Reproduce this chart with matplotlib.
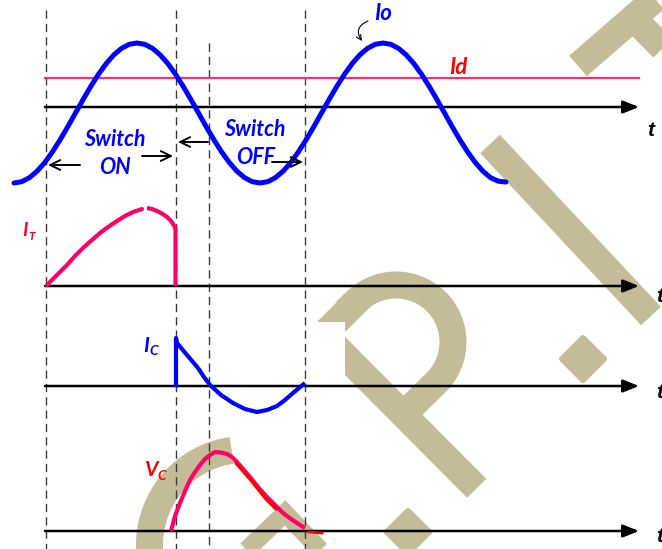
import numpy as np
import matplotlib
matplotlib.use('Agg')
import matplotlib.pyplot as plt
from matplotlib.patches import Rectangle
from matplotlib.markers import MarkerStyle

# ---------------- data (picture coordinates: x right, y down) ----------------
io_x = [14.0, 21.7, 29.4, 37.1, 44.8, 52.4, 60.1, 67.8, 75.5, 83.2, 90.9, 98.6,
        106.3, 113.9, 121.6, 129.3, 137.0, 144.7, 152.4, 160.1, 167.8, 175.4, 183.1,
        190.8, 198.5, 206.2, 213.9, 221.6, 229.3, 236.9, 244.6, 252.3, 260.0, 267.7,
        275.4, 283.1, 290.8, 298.4, 306.1, 313.8, 321.5, 329.2, 336.9, 344.6, 352.3,
        359.9, 367.6, 375.3, 383.0, 390.7, 398.4, 406.1, 413.8, 421.4, 429.1, 436.8,
        444.5, 452.2, 459.9, 467.6, 475.3, 482.9, 490.6, 498.3, 506.0]
io_y = [183, 181.7, 177.7, 171.2, 162.5, 151.9, 139.8, 126.7, 113, 99.3, 86.2, 74.1,
        63.5, 54.8, 48.3, 44.3, 43, 44.3, 48.3, 54.8, 63.5, 74.1, 86.2, 99.3,
        113, 126.7, 139.8, 151.9, 162.5, 171.2, 177.7, 181.7, 183, 181.7, 177.7, 171.2,
        162.5, 151.9, 139.8, 126.7, 113, 99.3, 86.2, 74.1, 63.5, 54.8, 48.3, 44.3,
        43, 44.3, 48.3, 54.8, 63.5, 74.1, 86.2, 99.3, 113, 126.7, 139.8, 151.9,
        162.5, 171.2, 177.7, 181.2, 182]
id_level = 78

it_x1 = [47, 57, 67, 75, 83, 92, 100, 108, 117, 125, 133, 142]
it_y1 = [285, 275, 265, 256, 248, 240, 233, 227, 221, 216, 212, 209]
it_x2 = [147, 152, 157, 162, 167, 171, 175, 175.5, 175.5]
it_y2 = [208, 209, 211, 213.5, 217, 221, 227, 227, 286]

ic_x = [176, 176, 177, 187, 198, 204, 210, 221, 233, 245, 257, 267, 277, 285, 293, 299, 305]
ic_y = [387, 338, 343, 355, 368, 377, 385, 395, 403, 409, 412, 410, 406, 400, 393, 388, 383]

vc_x = [171, 175, 180, 185, 190, 195, 200, 205, 210, 215, 221, 227, 232, 237, 243,
        250, 258, 267, 275, 283, 291, 300, 305]
vc_y = [531, 516, 503, 491, 480, 472, 465, 459, 455, 452, 452.5, 454, 457, 462, 469,
        477, 487, 497, 505, 513, 519, 525, 528]
vc2_x = [236, 243, 250, 258, 266, 276]
vc2_y = [463, 471, 479, 489, 499, 509]
vc_tail_x = [309, 322]
vc_tail_y = [532, 533]

axis_rows = [107, 286, 386, 531]
axis_start, axis_end = 45, 639
t_labels = [(651, 130), (660, 296), (660, 392), (660, 537)]

dash_x = [46, 175.5, 209, 305]
dash_top = [10, 10, 43, 10]

# ---------------- figure ----------------
fig = plt.figure(figsize=(6.62, 5.49), dpi=100)
ax = fig.add_axes([0, 0, 1, 1])
ax.set_xlim(0, 662)
ax.set_ylim(549, 0)
ax.axis('off')

PX = 72 / 100.0  # points per pixel
TAN = '#c4bc97'
BLUE = '#0000ff'
PINK = '#ff0066'
RED = '#ff0000'

# ---------------- watermark (decoration) ----------------
wm_kw = dict(color=TAN, lw=27 * PX, solid_capstyle='butt', solid_joinstyle='miter', zorder=1)
ax.plot([490, 651], [144, 316], **wm_kw)                         # I stroke
ax.plot([578, 700], [66, -40], **wm_kw)                          # T bar
ax.plot([640, 700], [25, 85], **wm_kw)                           # T stem
th = np.radians(np.linspace(225, 405, 60))
px = [476.7, 323.6, 356] + list(396 + 57 * np.cos(th)) + [400]
py = [488.3, 334.4, 302] + list(342 + 57 * np.sin(th)) + [418]
ax.plot(px, py, **wm_kw)                                         # P
th2 = np.radians(np.linspace(150, 262, 50))
ax.plot(245 + 95.5 * np.cos(th2), 545 + 95.5 * np.sin(th2), **wm_kw)  # C
ax.plot([234, 285, 332], [562, 513, 562], color=TAN, lw=18 * PX,
        solid_joinstyle='miter', solid_capstyle='butt', zorder=1)
dm = MarkerStyle('D', joinstyle='round')
for cx, cy in [(583, 359), (408, 532)]:
    ax.plot([cx], [cy], marker=dm, ms=29 * PX, mfc=TAN, mec=TAN, mew=6 * PX,
            ls='none', zorder=1)
ax.add_patch(Rectangle((306, 322), 39, 80, facecolor='white', edgecolor='none', zorder=1.5))

# ---------------- dashed guides ----------------
for x, top in zip(dash_x, dash_top):
    ax.plot([x, x], [top, 549], color='#3a3a3a', lw=1.0, dashes=(6, 3.6), zorder=2)

# ---------------- time axes ----------------
for y in axis_rows:
    ax.annotate('', xy=(axis_end, y), xytext=(axis_start, y),
                arrowprops=dict(arrowstyle='-|>,head_length=0.8,head_width=0.32',
                                mutation_scale=12, lw=1.8, color='black',
                                shrinkA=0, shrinkB=0), zorder=3)
for (tx, ty) in t_labels:
    ax.text(tx, ty, 't', fontsize=15, fontweight='bold', fontstyle='italic',
            family='Liberation Sans', ha='center', va='center', color='black', zorder=4)

# ---------------- waveforms ----------------
ax.plot([axis_start, axis_end], [id_level, id_level], color='#ff2d6f', lw=1.6, zorder=3)
ax.plot(io_x, io_y, color=BLUE, lw=3.6, solid_joinstyle='round', solid_capstyle='round', zorder=4)

ax.plot(it_x1, it_y1, color=PINK, lw=3.0, solid_capstyle='round', solid_joinstyle='round', zorder=4)
ax.plot(it_x2, it_y2, color=PINK, lw=3.0, solid_capstyle='butt', solid_joinstyle='round', zorder=4)

ax.plot(ic_x, ic_y, color=BLUE, lw=3.0, solid_capstyle='butt', solid_joinstyle='round', zorder=4)

ax.plot(vc_x, vc_y, color=PINK, lw=3.0, solid_capstyle='butt', solid_joinstyle='round', zorder=4)
ax.plot(vc2_x, vc2_y, color=RED, lw=2.4, solid_capstyle='round', solid_joinstyle='round', zorder=4)
ax.plot(vc_tail_x, vc_tail_y, color=RED, lw=2.0, zorder=4)

# ---------------- labels ----------------
lab = dict(family='Lato', fontweight='bold', fontstyle='italic', ha='center', va='center', zorder=5)
ax.text(115, 139, 'Switch', fontsize=15.5, color=BLUE, **lab)
ax.text(115, 167, 'ON', fontsize=15.5, color=BLUE, **lab)
ax.text(255, 129, 'Switch', fontsize=15.5, color=BLUE, **lab)
ax.text(256, 158, 'OFF', fontsize=15.5, color=BLUE, **lab)
ax.text(383, 14, 'Io', fontsize=16, color=BLUE, **lab)
ax.text(458, 67, 'Id', fontsize=16, color=RED, **lab)

ax.text(25, 231, 'I', fontsize=14, color='#ff0033', **lab)
ax.text(32, 237, 'T', fontsize=8.5, color='#ff0033', **lab)
ax.text(146, 346, 'I', fontsize=15, color=BLUE, **lab)
ax.text(154, 351, 'C', fontsize=10, color=BLUE, **lab)
ax.text(152, 470, 'V', fontsize=15, color=RED, **lab)
ax.text(162, 476, 'C', fontsize=10, color=RED, **lab)

# switch arrows
arr = dict(arrowstyle='->,head_length=0.45,head_width=0.22', mutation_scale=16,
           lw=1.4, color='black', shrinkA=0, shrinkB=0)
for (x0, x1, y) in [(80, 48, 165), (142, 173, 156), (208, 178, 142), (272, 303, 162)]:
    ax.annotate('', xy=(x1, y), xytext=(x0, y), arrowprops=arr, zorder=5)

# small curved pointer at Io
ax.annotate('', xy=(362, 41), xytext=(368, 21),
            arrowprops=dict(arrowstyle='->,head_length=0.3,head_width=0.15', mutation_scale=12,
                            lw=0.8, color='black', connectionstyle='arc3,rad=0.6',
                            shrinkA=0, shrinkB=0), zorder=5)

fig.savefig('out.png', dpi=100)
